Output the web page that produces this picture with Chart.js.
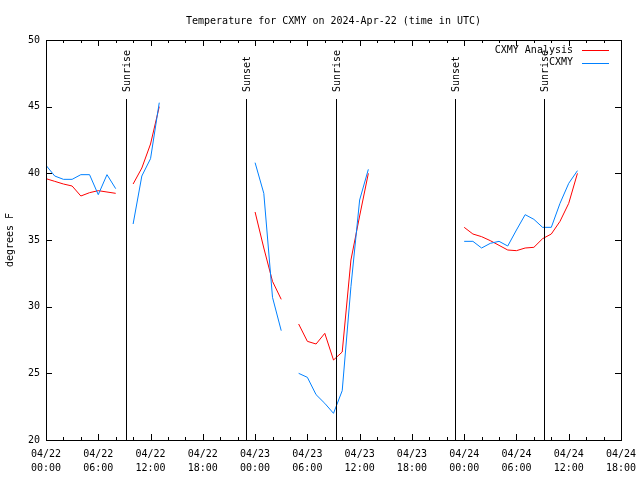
<!DOCTYPE html>
<html>
<head>
<meta charset="utf-8">
<script src="https://cdn.jsdelivr.net/npm/chart.js@4/dist/chart.umd.min.js"></script>
<style>
  body { margin: 0; background: #fff; }
  canvas { display: block; }
</style>
</head>
<body>
<canvas id="chart-temp" width="640" height="480"></canvas>
<script>
// hours since 04/22 00:00 UTC
var hours = [0,1,2,3,4,5,6,7,8,9,10,11,12,13,14,15,16,17,18,19,20,
             21,22,23,24,25,26,27,28,29,30,31,32,33,34,35,36,37,38,39,40,
             41,42,43,44,45,46,47,48,49,50,51,52,53,54,55,56,57,58,59,60,61];

var analysisTemps = [39.6,39.4,39.2,39.05,38.3,38.55,38.7,38.6,38.5,null,39.2,40.4,42.2,45.0,
                     null,null,null,null,null,null,null,null,null,null,
                     37.1,34.4,31.9,30.55,null,28.7,27.4,27.2,28.0,26.0,26.6,33.5,36.8,40.0,
                     null,null,null,null,null,null,null,null,null,null,
                     35.95,35.45,35.25,34.95,34.6,34.25,34.2,34.4,34.45,35.1,35.45,36.4,37.75,40.0];

var observedTemps = [40.6,39.8,39.55,39.55,39.9,39.9,38.4,39.9,38.85,null,36.2,39.8,41.1,45.3,
                     null,null,null,null,null,null,null,null,null,null,
                     40.8,38.5,30.7,28.2,null,25.0,24.7,23.4,22.75,22.0,23.7,31.5,38.0,40.3,
                     null,null,null,null,null,null,null,null,null,null,
                     34.9,34.9,34.4,34.75,34.9,34.55,35.75,36.9,36.55,35.95,35.95,37.75,39.25,40.2];

var xTickLabels = [["04/22","00:00"],["04/22","06:00"],["04/22","12:00"],["04/22","18:00"],
                   ["04/23","00:00"],["04/23","06:00"],["04/23","12:00"],["04/23","18:00"],
                   ["04/24","00:00"],["04/24","06:00"],["04/24","12:00"],["04/24","18:00"]];

var sunHours  = [9.23, 22.96, 33.27, 46.95, 57.18];
var sunLabels = ["Sunrise", "Sunset", "Sunrise", "Sunset", "Sunrise"];

var MONO = "'DejaVu Sans Mono', 'Liberation Mono', monospace";
var monoFont = { family: MONO, size: 10, weight: 'normal' };

function toPoints(vals) {
    return hours.map(function (h, i) { return { x: h, y: vals[i] }; });
}

// gnuplot style frame: border, inside ticks, sun lines, legend, title
var gnuplotFrame = {
    id: 'gnuplotFrame',
    afterDatasetsDraw: function (chart) {
        var c = chart.ctx, a = chart.chartArea;
        var xs = chart.scales.x, ys = chart.scales.y;
        c.save();
        c.strokeStyle = '#000';
        c.lineWidth = 1;

        // sunrise / sunset markers
        c.fillStyle = '#000';
        c.font = '10px ' + MONO;
        sunHours.forEach(function (h, i) {
            var x = Math.round(xs.getPixelForValue(h)) + 0.5;
            c.beginPath();
            c.moveTo(x, a.bottom);
            c.lineTo(x, a.top + 59);
            c.stroke();
            c.save();
            c.translate(x + 1, a.top + 52);
            c.rotate(-Math.PI / 2);
            c.textAlign = 'left';
            c.textBaseline = 'middle';
            c.fillText(sunLabels[i], 0, 0);
            c.restore();
        });

        // border
        c.strokeRect(Math.round(a.left) + 0.5, Math.round(a.top) + 0.5,
                     Math.round(a.right - a.left), Math.round(a.bottom - a.top));

        // x ticks (major every 6h, minor every 2h)
        for (var h = 0; h <= 66; h += 2) {
            var x = Math.round(xs.getPixelForValue(h)) + 0.5;
            var len = (h % 6 === 0) ? 6 : 3;
            c.beginPath();
            c.moveTo(x, a.bottom); c.lineTo(x, a.bottom - len);
            c.moveTo(x, a.top); c.lineTo(x, a.top + len);
            c.stroke();
        }
        // y ticks
        for (var v = 20; v <= 50; v += 5) {
            var y = Math.round(ys.getPixelForValue(v)) + 0.5;
            c.beginPath();
            c.moveTo(a.left, y); c.lineTo(a.left + 6, y);
            c.moveTo(a.right, y); c.lineTo(a.right - 6, y);
            c.stroke();
        }

        // legend
        var ds = chart.data.datasets;
        c.textAlign = 'right';
        c.textBaseline = 'middle';
        ds.forEach(function (d, i) {
            var ly = a.top + 10 + i * 12.5;
            c.fillStyle = '#000';
            c.fillText(d.label, a.right - 48, ly);
            c.strokeStyle = d.borderColor;
            c.beginPath();
            c.moveTo(a.right - 39, Math.round(ly) + 0.5);
            c.lineTo(a.right - 12, Math.round(ly) + 0.5);
            c.stroke();
        });

        // title
        c.fillStyle = '#000';
        c.textAlign = 'center';
        c.fillText('Temperature for CXMY on 2024-Apr-22 (time in UTC)', (a.left + a.right) / 2, 21);
        c.restore();
    }
};

var ctx = document.getElementById('chart-temp').getContext('2d');

new Chart(ctx, {
    type: 'line',
    data: {
        datasets: [
            {
                label: 'CXMY Analysis',
                data: toPoints(analysisTemps),
                borderColor: '#ff0000',
                borderWidth: 1,
                pointRadius: 0,
                tension: 0,
                spanGaps: false,
                order: 2
            },
            {
                label: 'CXMY',
                data: toPoints(observedTemps),
                borderColor: '#0080ff',
                borderWidth: 1,
                pointRadius: 0,
                tension: 0,
                spanGaps: false,
                order: 1
            }
        ]
    },
    options: {
        responsive: false,
        animation: false,
        events: [],
        layout: { padding: { left: 0, right: 19, top: 40, bottom: 0 } },
        plugins: {
            legend: { display: false },
            title: { display: false },
            tooltip: { enabled: false }
        },
        scales: {
            x: {
                type: 'linear',
                min: 0,
                max: 66,
                grid: { display: false, drawTicks: false },
                border: { display: false },
                ticks: {
                    stepSize: 6,
                    autoSkip: false,
                    maxRotation: 0,
                    padding: 7,
                    color: '#000',
                    font: { family: MONO, size: 10, lineHeight: 1.4 },
                    callback: function (value) { return xTickLabels[Math.round(value / 6)]; }
                },
                afterFit: function (s) { s.height = 40; s.paddingLeft = 0; s.paddingRight = 0; }
            },
            y: {
                min: 20,
                max: 50,
                grid: { display: false, drawTicks: false },
                border: { display: false },
                ticks: { stepSize: 5, padding: 6, color: '#000', font: monoFont },
                title: { display: true, text: 'degrees F', color: '#000', font: monoFont, padding: { top: 4, bottom: 0 } },
                afterFit: function (s) { s.width = 46; s.paddingTop = 0; s.paddingBottom = 0; }
            }
        }
    },
    plugins: [gnuplotFrame]
});
</script>
</body>
</html>
